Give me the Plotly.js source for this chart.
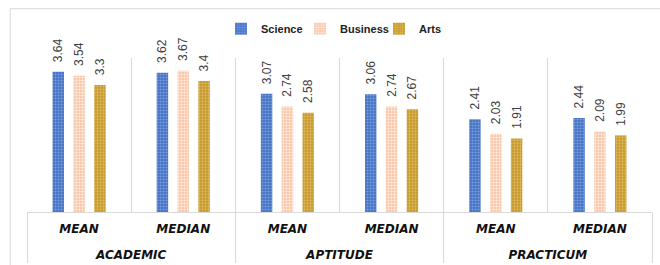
<!DOCTYPE html>
<html>
<head>
<meta charset="utf-8">
<script src="https://cdn.plot.ly/plotly-3.0.1.min.js"></script>
<style>html,body{margin:0;padding:0;background:#fff;}#chart{width:660px;height:265px;}</style>
</head>
<body>
<div id="chart"></div>
<script>
const groups = ['ACADEMIC','ACADEMIC','APTITUDE','APTITUDE','PRACTICUM','PRACTICUM'];
const stats = ['MEAN','MEDIAN','MEAN','MEDIAN','MEAN','MEDIAN'];
const science = [3.64, 3.62, 3.07, 3.06, 2.41, 2.44];
const business = [3.54, 3.67, 2.74, 2.74, 2.03, 2.09];
const arts = [3.3, 3.4, 2.58, 2.67, 1.91, 1.99];
const seriesNames = ['Science', 'Business', 'Arts'];

// an invisible second line under each inner label gives the two label rows their spacing
const innerLabels = stats.map(s => s + '<br>\u00a0');

function tr(name, vals, bg, fg, sol) {
  return {
    type: 'bar', name: name, x: [groups, innerLabels], y: vals,
    text: vals.map(v => '\u00a0\u00a0' + String(v)), textposition: 'outside', textangle: -90,
    constraintext: 'none',
    textfont: {family: 'Liberation Sans, Arial, sans-serif', size: 12, color: '#404040'},
    cliponaxis: false,
    marker: {color: bg, line: {width: 0}, pattern: {shape: '.', fgcolor: fg, bgcolor: bg, size: 3, solidity: sol, fillmode: 'replace'}}
  };
}
const data = [
  tr(seriesNames[0], science, '#4472C4', '#7b9ee0', 0.4),
  tr(seriesNames[1], business, '#F9BD9A', '#FFEADF', 0.5),
  tr(seriesNames[2], arts, '#C49628', '#DDB85C', 0.45)
];
const layout = {
  width: 660, height: 265,
  margin: {l: 27, r: 8, t: 58, b: 53},
  paper_bgcolor: '#fff', plot_bgcolor: '#fff',
  barmode: 'group', bargap: 0.4, bargroupgap: 0.45,
  showlegend: true,
  legend: {orientation: 'h', x: 0.5, xanchor: 'center', y: 1.19, yanchor: 'middle',
    bgcolor: 'rgba(0,0,0,0)', itemwidth: 30, entrywidth: 34, entrywidthmode: 'pixels',
    font: {family: 'Liberation Sans, Arial, sans-serif', size: 11, color: '#222', weight: 'bold'},
    traceorder: 'normal'},
  xaxis: {type: 'multicategory', showgrid: true, gridcolor: '#d9d9d9', gridwidth: 1,
    showline: true, linecolor: '#d9d9d9', linewidth: 1,
    showdividers: true, dividercolor: '#d9d9d9', dividerwidth: 1,
    ticks: '', ticklabelstandoff: 6,
    tickfont: {family: 'DejaVu Sans, sans-serif', size: 12, color: '#111', weight: 'bold', style: 'italic'}},
  yaxis: {range: [0, 4], showgrid: false, zeroline: false, showticklabels: false, ticks: '', showline: false},
  shapes: [{type: 'rect', xref: 'paper', yref: 'paper', x0: -0.027, x1: 1.05, y0: -0.5, y1: 1.32,
    line: {color: '#d9d9d9', width: 1}, fillcolor: 'rgba(0,0,0,0)', layer: 'below'}]
};
Plotly.newPlot('chart', data, layout, {displayModeBar: false, staticPlot: true});
</script>
</body>
</html>
